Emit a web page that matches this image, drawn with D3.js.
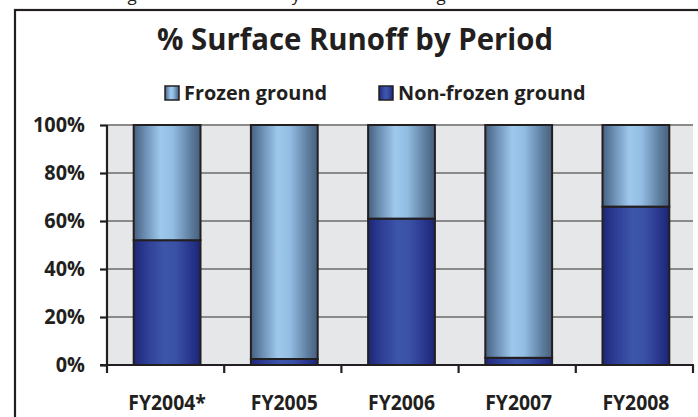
<!DOCTYPE html>
<html>
<head>
<meta charset="utf-8">
<script src="https://cdn.jsdelivr.net/npm/d3@7"></script>
<style>
  body { margin: 0; background: #fff; }
  svg { display: block; font-family: "Open Sans", "Noto Sans", sans-serif; font-weight: 700; }
</style>
</head>
<body>
<div id="chart"></div>
<script>
// % surface runoff by period, frozen vs non-frozen ground
var categories = ["FY2004*", "FY2005", "FY2006", "FY2007", "FY2008"];
var nonFrozen = [52, 2.5, 61, 3, 66];
var frozen = [48, 97.5, 39, 97, 34];
var yTicks = [0, 20, 40, 60, 80, 100];
var seriesNames = ["Frozen ground", "Non-frozen ground"];

var W = 698, H = 417;
var margin = { top: 125, right: 5, bottom: 52, left: 107 };
var ink = "#231f20";

var svg = d3
  .select("#chart")
  .append("svg")
  .attr("width", W)
  .attr("height", H);

// the original font is narrow (Calibri-like): keep the glyph height
// and squeeze the text so that a sample string gets the wanted width
function squeeze(sel, size, sample, width) {
  var t = svg.append("text").style("font-size", size + "px").text(sample);
  var ratio = width / t.node().getComputedTextLength();
  t.remove();
  sel.style("font-size", size + "px").each(function () {
    var w = this.getComputedTextLength();
    d3.select(this).attr("textLength", w * ratio).attr("lengthAdjust", "spacingAndGlyphs");
  });
}

var defs = svg.append("defs");
function addGradient(id, stops) {
  var g = defs.append("linearGradient").attr("id", id)
    .attr("x1", "0%").attr("x2", "100%").attr("y1", "0%").attr("y2", "0%");
  stops.forEach(function (s) {
    g.append("stop").attr("offset", s[0]).attr("stop-color", s[1]);
  });
}
addGradient("gFrozen", [
  ["0%", "#46607d"], ["15%", "#6789ae"], ["40%", "#9ec8ec"],
  ["58%", "#93bee4"], ["85%", "#5e7e9f"], ["100%", "#475f7c"]
]);
addGradient("gNon", [
  ["0%", "#1d2675"], ["20%", "#2e3e96"], ["45%", "#3d56a9"],
  ["62%", "#3a52a5"], ["85%", "#29368e"], ["100%", "#1c2573"]
]);

// cropped caption line above the chart frame (only descenders visible)
[["g", 132], ["y", 296], ["g", 441]].forEach(function (c) {
  svg.append("text").attr("x", c[1]).attr("y", 1)
    .attr("text-anchor", "middle").style("font-size", "17px")
    .style("font-weight", "400")
    .attr("fill", ink).text(c[0]);
});

// outer frame
svg.append("rect")
  .attr("x", 15).attr("y", 10)
  .attr("width", 800).attr("height", 600)
  .attr("fill", "#fff").attr("stroke", ink).attr("stroke-width", 2.2);

// title
var title = svg.append("text")
  .attr("x", 355).attr("y", 50)
  .attr("text-anchor", "middle")
  .attr("fill", ink)
  .text("% Surface Runoff by Period");
squeeze(title, 31, "% Surface Runoff by Period", 396);

// legend
var legendX = [165, 379];
var legendFill = ["url(#gFrozen)", "url(#gNon)"];
var legendTexts = [];
seriesNames.forEach(function (name, i) {
  svg.append("rect")
    .attr("x", legendX[i]).attr("y", 86)
    .attr("width", 14).attr("height", 14)
    .attr("fill", legendFill[i]).attr("stroke", ink).attr("stroke-width", 1.5);
  legendTexts.push(svg.append("text")
    .attr("class", "legend")
    .attr("x", legendX[i] + 19).attr("y", 100)
    .attr("fill", ink)
    .text(name));
});
squeeze(svg.selectAll("text.legend"), 20, "Frozen ground", 143);

var x = d3.scaleBand()
  .domain(categories)
  .range([margin.left, W - margin.right])
  .paddingInner(0.43)
  .paddingOuter(0.215);

var y = d3.scaleLinear()
  .domain([0, 100])
  .range([H - margin.bottom, margin.top]);

// plot background
svg.append("rect")
  .attr("x", margin.left).attr("y", y(100))
  .attr("width", W - margin.right - margin.left)
  .attr("height", y(0) - y(100))
  .attr("fill", "#e6e7e8");

// gridlines
svg.append("g")
  .selectAll("line")
  .data(yTicks.slice(1))
  .enter()
  .append("line")
  .attr("x1", margin.left).attr("x2", W - margin.right)
  .attr("y1", function (d) { return y(d); })
  .attr("y2", function (d) { return y(d); })
  .attr("stroke", "#8a8a8a").attr("stroke-width", 2);

// bars
var rows = categories.map(function (c, i) {
  return { cat: c, non: nonFrozen[i], frozen: frozen[i] };
});

svg.append("g").selectAll("rect.non")
  .data(rows).enter().append("rect")
  .attr("x", function (d) { return x(d.cat) + 1.5; })
  .attr("y", function (d) { return y(d.non); })
  .attr("width", x.bandwidth())
  .attr("height", function (d) { return y(0) - y(d.non); })
  .attr("fill", "url(#gNon)")
  .attr("stroke", ink).attr("stroke-width", 2);

svg.append("g").selectAll("rect.frozen")
  .data(rows).enter().append("rect")
  .attr("x", function (d) { return x(d.cat) + 1.5; })
  .attr("y", function (d) { return y(d.non + d.frozen); })
  .attr("width", x.bandwidth())
  .attr("height", function (d) { return y(d.non) - y(d.non + d.frozen); })
  .attr("fill", "url(#gFrozen)")
  .attr("stroke", ink).attr("stroke-width", 2);

// y axis
var yAxis = svg.append("g")
  .attr("transform", "translate(" + margin.left + ",0)")
  .call(d3.axisLeft(y).tickValues(yTicks).tickSize(7).tickPadding(15)
    .tickFormat(function (d) { return d + "%"; }));
yAxis.select(".domain").attr("stroke", ink).attr("stroke-width", 2.2)
  .attr("d", "M0," + y(100) + "V" + (y(0) + 1));
yAxis.selectAll(".tick line").attr("stroke", ink).attr("stroke-width", 2.2);
var yLabels = yAxis.selectAll("text").attr("fill", ink)
  .style("font-family", "'Open Sans', sans-serif").style("font-weight", "700");
squeeze(yLabels, 21, "100%", 52);

// x axis with ticks on category boundaries
var xAxis = svg.append("g")
  .attr("transform", "translate(0," + y(0) + ")");
xAxis.append("line")
  .attr("x1", margin.left - 7).attr("x2", W - margin.right + 1)
  .attr("stroke", ink).attr("stroke-width", 2.2);
var step = x.step();
var bounds = categories.map(function (c) { return x(c) - x.paddingOuter() * step; });
bounds.push(W - margin.right);
xAxis.selectAll("line.b")
  .data(bounds).enter().append("line")
  .attr("x1", function (d) { return d; }).attr("x2", function (d) { return d; })
  .attr("y1", 0).attr("y2", 8)
  .attr("stroke", ink).attr("stroke-width", 2.2);
var xLabels = xAxis.selectAll("text")
  .data(categories).enter().append("text")
  .attr("x", function (d) { return x(d) + x.bandwidth() / 2 + 1.5; })
  .attr("y", 45)
  .attr("text-anchor", "middle")
  .attr("fill", ink)
  .text(function (d) { return d; });
squeeze(xLabels, 21, "FY2005", 67);
</script>
</body>
</html>
